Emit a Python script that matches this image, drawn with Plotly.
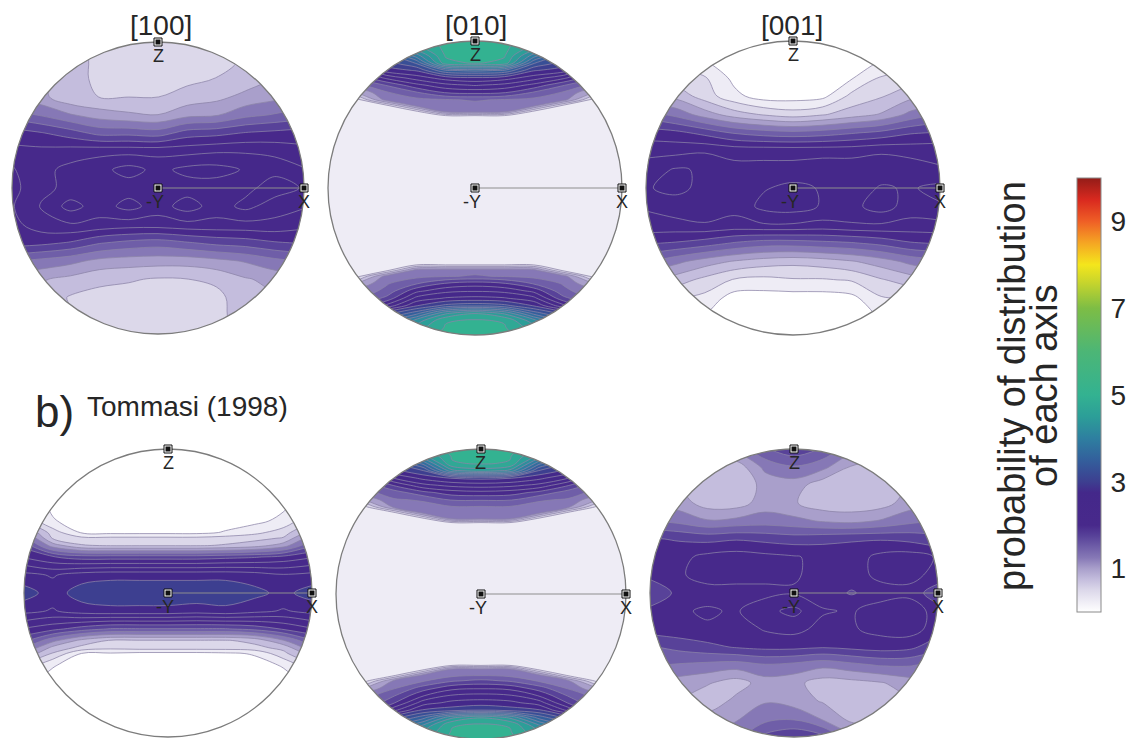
import numpy as np
import plotly.graph_objects as go

W, H = 1139, 738

# Sampling grids of the equal-area projection (unit circle), x to the right, y up
X_GRID = [-1.0, -0.8, -0.6, -0.4, -0.2, 0.0, 0.2, 0.4, 0.6, 0.8, 1.0]
Y_GRID = [1.0, 0.875, 0.75, 0.625, 0.5, 0.375, 0.25, 0.125, 0.0,
          -0.125, -0.25, -0.375, -0.5, -0.625, -0.75, -0.875, -1.0]
# [010] maxima sit at the poles, so those figures are sampled finer near the rim
Y_GRID_010 = [1.0, 0.95, 0.9, 0.85, 0.8, 0.75, 0.7, 0.65, 0.6, 0.56, 0.52, 0.49, 0.0,
              -0.49, -0.52, -0.56, -0.6, -0.65, -0.7, -0.75, -0.8, -0.85, -0.9, -0.95, -1.0]
# Tommasi [100]: sharp girdle edges, sampled finer around them
Y_GRID_B100 = [1.0, 0.875, 0.75, 0.625, 0.5, 0.42, 0.38, 0.33, 0.25, 0.125, 0.0,
               -0.125, -0.25, -0.33, -0.38, -0.42, -0.5, -0.625, -0.75, -0.875, -1.0]

# Probability density of each crystal axis (rows follow the y grid, columns X_GRID)
A_100 = [
    [0.9, 0.8, 0.7, 0.55, 0.5, 0.5, 0.5, 0.55, 0.65, 0.8, 0.9],
    [0.9, 0.85, 0.75, 0.55, 0.5, 0.5, 0.5, 0.55, 0.65, 0.85, 0.95],
    [1.0, 0.9, 0.8, 0.52, 0.52, 0.52, 0.56, 0.63, 0.72, 0.9, 1.0],
    [1.1, 0.95, 0.68, 0.62, 0.62, 0.62, 0.72, 0.8, 0.95, 1.05, 1.15],
    [1.5, 1.35, 1.15, 1.0, 0.92, 0.88, 1.05, 1.1, 1.3, 1.4, 1.5],
    [2.0, 1.9, 1.75, 1.55, 1.55, 1.5, 1.75, 1.8, 1.9, 1.95, 2.0],
    [2.2, 2.2, 2.25, 2.3, 2.3, 2.3, 2.3, 2.35, 2.35, 2.3, 2.2],
    [2.1, 2.3, 2.45, 2.55, 2.72, 2.55, 2.7, 2.72, 2.6, 2.55, 2.4],
    [2.05, 2.3, 2.45, 2.45, 2.5, 2.45, 2.5, 2.5, 2.55, 2.75, 2.6],
    [2.1, 2.4, 2.72, 2.5, 2.72, 2.5, 2.75, 2.5, 2.7, 2.5, 2.4],
    [2.05, 2.25, 2.35, 2.3, 2.25, 2.25, 2.3, 2.3, 2.3, 2.3, 2.2],
    [2.0, 1.95, 1.85, 1.65, 1.55, 1.5, 1.6, 1.7, 1.75, 1.85, 1.9],
    [1.4, 1.3, 1.2, 1.05, 1.0, 0.98, 0.98, 1.05, 1.15, 1.3, 1.4],
    [1.0, 0.9, 0.8, 0.68, 0.65, 0.6, 0.62, 0.68, 0.85, 0.95, 1.0],
    [0.9, 0.8, 0.6, 0.55, 0.52, 0.5, 0.52, 0.55, 0.78, 0.85, 0.9],
    [0.8, 0.75, 0.65, 0.5, 0.5, 0.5, 0.5, 0.55, 0.75, 0.8, 0.85],
    [0.8, 0.7, 0.6, 0.5, 0.5, 0.5, 0.5, 0.55, 0.7, 0.8, 0.8],
]

A_010 = [
    [3.0, 3.5, 4.1, 4.7, 4.95, 5.0, 4.95, 4.7, 4.1, 3.5, 3.0],
    [2.8, 3.2, 3.7, 4.5, 4.95, 5.0, 4.95, 4.5, 3.7, 3.2, 2.8],
    [2.4, 2.8, 3.2, 4.0, 4.9, 4.95, 4.9, 4.0, 3.2, 2.8, 2.4],
    [2.0, 2.5, 3.0, 3.4, 4.8, 4.9, 4.8, 3.4, 3.0, 2.5, 2.0],
    [1.6, 2.1, 2.75, 2.9, 3.6, 3.7, 3.6, 2.9, 2.75, 2.1, 1.6],
    [1.3, 1.7, 2.2, 2.5, 2.75, 2.85, 2.75, 2.5, 2.2, 1.7, 1.3],
    [0.8, 1.3, 1.65, 2.05, 2.3, 2.4, 2.3, 2.05, 1.65, 1.3, 0.8],
    [0.3, 0.9, 1.35, 1.6, 1.9, 1.95, 1.9, 1.6, 1.35, 0.9, 0.3],
    [0.3, 0.3, 1.25, 1.3, 1.35, 1.4, 1.35, 1.3, 1.25, 0.3, 0.3],
    [0.3, 0.3, 0.3, 1.2, 1.3, 1.3, 1.3, 1.2, 0.3, 0.3, 0.3],
    [0.3, 0.3, 0.3, 0.3, 1.2, 1.25, 1.2, 0.3, 0.3, 0.3, 0.3],
    [0.3, 0.3, 0.3, 0.3, 0.3, 0.3, 0.3, 0.3, 0.3, 0.3, 0.3],
    [0.3, 0.3, 0.3, 0.3, 0.3, 0.3, 0.3, 0.3, 0.3, 0.3, 0.3],
    [0.3, 0.3, 0.3, 0.3, 0.3, 0.3, 0.3, 0.3, 0.3, 0.3, 0.3],
    [0.3, 0.3, 0.3, 0.3, 0.3, 0.3, 0.3, 0.3, 0.3, 0.3, 0.3],
    [0.3, 0.3, 0.3, 1.25, 1.3, 1.3, 1.3, 1.25, 0.3, 0.3, 0.3],
    [0.3, 0.3, 1.25, 1.3, 1.35, 1.4, 1.35, 1.3, 1.25, 0.3, 0.3],
    [0.3, 0.9, 1.35, 1.6, 1.9, 2.0, 1.9, 1.6, 1.35, 0.9, 0.3],
    [0.8, 1.2, 1.45, 2.05, 2.3, 2.35, 2.3, 2.05, 1.45, 1.2, 0.8],
    [1.2, 1.35, 1.7, 2.45, 2.65, 2.7, 2.65, 2.45, 1.7, 1.35, 1.2],
    [1.4, 1.6, 2.2, 2.85, 3.2, 3.3, 3.2, 2.85, 2.2, 1.6, 1.4],
    [1.8, 2.0, 3.0, 3.5, 4.3, 4.6, 4.3, 3.5, 3.0, 2.0, 1.8],
    [2.2, 2.5, 3.5, 4.2, 4.85, 4.9, 4.85, 4.2, 3.5, 2.5, 2.2],
    [2.6, 3.0, 3.9, 4.5, 4.9, 4.95, 4.9, 4.5, 3.9, 3.0, 2.6],
    [3.0, 3.3, 4.1, 4.7, 4.95, 5.0, 4.95, 4.7, 4.1, 3.3, 3.0],
]

A_001 = [
    [0.1, 0.1, 0.1, 0.1, 0.1, 0.1, 0.1, 0.1, 0.1, 0.1, 0.1],
    [0.2, 0.15, 0.1, 0.05, 0.05, 0.05, 0.05, 0.05, 0.1, 0.15, 0.2],
    [0.6, 0.5, 0.4, 0.05, 0.0, 0.0, 0.0, 0.1, 0.4, 0.5, 0.6],
    [0.9, 0.8, 0.5, 0.2, 0.0, 0.0, 0.05, 0.45, 0.6, 0.8, 0.9],
    [1.5, 1.3, 1.0, 0.75, 0.6, 0.5, 0.6, 0.75, 0.9, 1.2, 1.4],
    [2.0, 1.95, 1.8, 1.6, 1.5, 1.45, 1.5, 1.6, 1.7, 1.85, 1.9],
    [2.3, 2.3, 2.35, 2.3, 2.3, 2.3, 2.3, 2.3, 2.35, 2.3, 2.3],
    [2.5, 2.65, 2.6, 2.45, 2.45, 2.45, 2.5, 2.5, 2.5, 2.5, 2.4],
    [2.6, 2.7, 2.55, 2.45, 2.6, 2.7, 2.6, 2.5, 2.65, 2.6, 2.7],
    [2.4, 2.5, 2.55, 2.45, 2.7, 2.75, 2.6, 2.55, 2.75, 2.5, 2.6],
    [2.3, 2.3, 2.35, 2.3, 2.35, 2.35, 2.3, 2.35, 2.35, 2.3, 2.3],
    [1.9, 1.85, 1.75, 1.6, 1.5, 1.5, 1.55, 1.6, 1.7, 1.85, 1.9],
    [1.4, 1.2, 1.0, 0.85, 0.75, 0.7, 0.75, 0.85, 1.0, 1.2, 1.3],
    [0.9, 0.75, 0.55, 0.35, 0.3, 0.35, 0.35, 0.4, 0.6, 0.75, 0.9],
    [0.5, 0.4, 0.3, 0.0, 0.0, 0.0, 0.0, 0.05, 0.35, 0.4, 0.5],
    [0.2, 0.15, 0.1, 0.0, 0.0, 0.0, 0.0, 0.0, 0.15, 0.15, 0.2],
    [0.1, 0.1, 0.1, 0.1, 0.1, 0.1, 0.1, 0.1, 0.1, 0.1, 0.1],
]

B_100 = [
    [0.0, 0.0, 0.0, 0.0, 0.0, 0.0, 0.0, 0.0, 0.0, 0.0, 0.0],
    [0.0, 0.0, 0.0, 0.0, 0.0, 0.0, 0.0, 0.0, 0.0, 0.0, 0.0],
    [0.05, 0.02, 0.0, 0.0, 0.0, 0.0, 0.0, 0.0, 0.0, 0.02, 0.05],
    [0.3, 0.05, 0.0, 0.0, 0.0, 0.0, 0.0, 0.0, 0.0, 0.05, 0.3],
    [0.6, 0.15, 0.0, 0.0, 0.0, 0.0, 0.0, 0.0, 0.05, 0.2, 0.6],
    [1.2, 0.5, 0.1, 0.05, 0.05, 0.05, 0.05, 0.15, 0.3, 0.5, 1.0],
    [1.5, 0.6, 0.45, 0.45, 0.45, 0.45, 0.45, 0.5, 0.55, 0.65, 1.3],
    [1.8, 1.0, 0.65, 0.6, 0.6, 0.6, 0.6, 0.65, 0.75, 1.0, 1.6],
    [2.1, 1.9, 1.75, 1.75, 1.75, 1.75, 1.75, 1.8, 1.85, 1.95, 2.1],
    [2.7, 2.6, 2.75, 2.8, 2.8, 2.8, 2.8, 2.8, 2.75, 2.65, 2.7],
    [3.0, 2.75, 3.0, 3.05, 3.05, 3.05, 3.05, 3.05, 2.95, 2.8, 3.0],
    [2.7, 2.6, 2.75, 2.8, 2.8, 2.8, 2.75, 2.8, 2.7, 2.6, 2.7],
    [2.1, 1.95, 1.75, 1.6, 1.6, 1.6, 1.6, 1.6, 1.7, 1.9, 2.1],
    [1.7, 1.2, 0.8, 0.6, 0.6, 0.6, 0.6, 0.6, 0.7, 1.1, 1.6],
    [1.4, 0.8, 0.55, 0.45, 0.5, 0.5, 0.5, 0.5, 0.55, 0.7, 1.3],
    [1.1, 0.6, 0.12, 0.1, 0.05, 0.05, 0.05, 0.08, 0.15, 0.55, 1.0],
    [0.6, 0.15, 0.0, 0.0, 0.0, 0.0, 0.0, 0.0, 0.02, 0.15, 0.6],
    [0.2, 0.0, 0.0, 0.0, 0.0, 0.0, 0.0, 0.0, 0.0, 0.0, 0.2],
    [0.05, 0.0, 0.0, 0.0, 0.0, 0.0, 0.0, 0.0, 0.0, 0.0, 0.05],
    [0.0, 0.0, 0.0, 0.0, 0.0, 0.0, 0.0, 0.0, 0.0, 0.0, 0.0],
    [0.0, 0.0, 0.0, 0.0, 0.0, 0.0, 0.0, 0.0, 0.0, 0.0, 0.0],
]

B_010 = [
    [3.0, 3.4, 4.0, 4.7, 4.95, 5.0, 4.95, 4.7, 4.0, 3.4, 3.0],
    [2.7, 3.1, 3.6, 4.3, 4.9, 4.95, 4.9, 4.3, 3.6, 3.1, 2.7],
    [2.3, 2.7, 3.1, 3.7, 4.85, 4.9, 4.85, 3.7, 3.1, 2.7, 2.3],
    [1.9, 2.3, 2.8, 3.1, 4.3, 4.5, 4.3, 3.1, 2.8, 2.3, 1.9],
    [1.5, 1.8, 2.4, 2.7, 2.9, 2.95, 2.9, 2.7, 2.4, 1.8, 1.5],
    [1.3, 1.45, 1.9, 2.3, 2.45, 2.5, 2.45, 2.3, 1.9, 1.45, 1.3],
    [0.8, 1.3, 1.5, 1.8, 2.0, 2.05, 2.0, 1.8, 1.5, 1.3, 0.8],
    [0.3, 0.9, 1.35, 1.4, 1.65, 1.65, 1.65, 1.4, 1.35, 0.9, 0.3],
    [0.3, 0.3, 1.2, 1.3, 1.35, 1.35, 1.35, 1.3, 1.2, 0.3, 0.3],
    [0.3, 0.3, 0.3, 1.2, 1.3, 1.3, 1.3, 1.2, 0.3, 0.3, 0.3],
    [0.3, 0.3, 0.3, 0.3, 1.2, 1.2, 1.2, 0.3, 0.3, 0.3, 0.3],
    [0.3, 0.3, 0.3, 0.3, 0.3, 0.3, 0.3, 0.3, 0.3, 0.3, 0.3],
    [0.3, 0.3, 0.3, 0.3, 0.3, 0.3, 0.3, 0.3, 0.3, 0.3, 0.3],
    [0.3, 0.3, 0.3, 0.3, 0.3, 0.3, 0.3, 0.3, 0.3, 0.3, 0.3],
    [0.3, 0.3, 0.3, 0.3, 1.2, 1.2, 1.2, 0.3, 0.3, 0.3, 0.3],
    [0.3, 0.3, 0.3, 1.2, 1.3, 1.35, 1.3, 1.2, 0.3, 0.3, 0.3],
    [0.3, 0.3, 1.2, 1.35, 1.6, 1.7, 1.6, 1.35, 1.2, 0.3, 0.3],
    [0.3, 0.9, 1.35, 1.75, 2.05, 2.1, 2.05, 1.75, 1.35, 0.9, 0.3],
    [0.8, 1.25, 1.6, 2.1, 2.4, 2.45, 2.4, 2.1, 1.6, 1.25, 0.8],
    [1.2, 1.35, 1.85, 2.5, 2.7, 2.75, 2.7, 2.5, 1.85, 1.35, 1.2],
    [1.4, 1.6, 2.3, 2.9, 3.0, 3.1, 3.0, 2.9, 2.3, 1.6, 1.4],
    [1.8, 2.0, 3.0, 3.5, 4.3, 4.6, 4.3, 3.5, 3.0, 2.0, 1.8],
    [2.2, 2.5, 3.5, 4.1, 4.85, 4.9, 4.85, 4.1, 3.5, 2.5, 2.2],
    [2.6, 3.0, 3.9, 4.4, 4.9, 4.95, 4.9, 4.4, 3.9, 3.0, 2.6],
    [3.0, 3.3, 4.1, 4.6, 4.95, 5.0, 4.95, 4.6, 4.1, 3.3, 3.0],
]

B_001 = [
    [1.0, 1.0, 1.0, 1.2, 1.6, 1.8, 1.6, 1.2, 1.0, 1.0, 1.0],
    [0.9, 0.85, 0.75, 0.72, 1.2, 1.35, 1.2, 0.85, 0.8, 0.9, 0.9],
    [0.9, 0.85, 0.7, 0.7, 0.95, 1.0, 0.72, 0.7, 0.72, 0.9, 1.0],
    [1.1, 1.0, 0.75, 0.75, 1.0, 0.9, 0.72, 0.7, 0.75, 1.0, 1.1],
    [1.4, 1.3, 1.15, 1.2, 1.25, 1.2, 1.1, 1.05, 1.15, 1.3, 1.4],
    [1.9, 1.85, 1.8, 1.85, 1.8, 1.75, 1.8, 1.85, 1.85, 1.8, 1.7],
    [2.0, 2.05, 2.2, 2.25, 2.2, 2.15, 2.05, 2.0, 2.2, 2.25, 2.1],
    [1.95, 2.1, 2.2, 2.25, 2.2, 2.15, 2.05, 2.0, 2.2, 2.2, 2.05],
    [1.65, 1.95, 2.05, 2.0, 2.05, 2.1, 2.0, 1.85, 2.0, 2.05, 1.7],
    [1.95, 2.1, 2.15, 2.1, 2.3, 2.45, 2.15, 2.1, 2.25, 2.3, 2.0],
    [2.0, 2.05, 2.1, 2.0, 2.15, 2.2, 2.05, 2.1, 2.2, 2.25, 2.0],
    [1.6, 1.7, 1.8, 1.9, 1.95, 1.95, 1.9, 1.95, 2.0, 1.95, 1.7],
    [1.4, 1.35, 1.3, 1.25, 1.35, 1.3, 1.2, 1.3, 1.4, 1.4, 1.3],
    [1.1, 1.0, 0.9, 0.75, 1.0, 0.95, 0.75, 0.78, 0.85, 1.0, 1.1],
    [1.0, 0.9, 0.7, 0.95, 1.1, 1.0, 0.85, 0.72, 0.7, 0.85, 1.0],
    [1.0, 0.95, 1.0, 1.1, 1.3, 1.35, 1.1, 0.8, 0.8, 0.9, 1.0],
    [1.1, 1.05, 1.1, 1.3, 1.7, 1.85, 1.7, 1.2, 1.0, 1.0, 1.0],
]

TITLES = ["[100]", "[010]", "[001]"]
SOURCE_LABEL = "Tommasi (1998)"
CBAR_TICKS = [1, 3, 5, 7, 9]
CBAR_TITLE = ["probability of distribution", "of each axis"]

# Colour ramp over the density range 0-10 (value, colour)
SCALE_STOPS = [
    (0.0, "#ffffff"), (0.25, "#eeecf5"), (0.5, "#dcd8ea"), (0.75, "#c4bddd"),
    (1.0, "#a99fcb"), (1.25, "#8678b6"), (1.5, "#6f5ea8"), (1.75, "#584299"),
    (2.0, "#48298b"), (2.75, "#44288a"), (3.0, "#3d3f90"), (3.5, "#335f9c"),
    (4.0, "#2e7fa0"), (4.5, "#2c9e98"), (5.0, "#33b291"), (6.0, "#4cb676"),
    (7.0, "#7dbd45"), (7.6, "#c8d52c"), (8.0, "#f4e61c"), (8.5, "#f5a623"),
    (9.0, "#ef5f26"), (9.5, "#d9291f"), (10.0, "#931c18"),
]
ZMAX = 10.0
COLORSCALE = [[v / ZMAX, c] for v, c in SCALE_STOPS]

# Pole figures: density grid, its y sampling, centre x, centre y, radius (pixels)
PANELS = [
    (A_100, Y_GRID, 158, 188, 146),
    (A_010, Y_GRID_010, 475, 188, 147),
    (A_001, Y_GRID, 793, 188, 147),
    (B_100, Y_GRID_B100, 168, 593, 144),
    (B_010, Y_GRID_010, 481, 594, 145),
    (B_001, Y_GRID, 794, 593, 144),
]
TITLE_POS = [(161, 26), (476, 26), (792, 26)]

FONT = "Arial, 'Liberation Sans', Helvetica, sans-serif"
TEXT = "#262626"

fig = go.Figure()
shapes = []
annotations = []

theta = np.linspace(0.0, 2.0 * np.pi, 241)
circ = list(zip(np.cos(theta), np.sin(theta)))

for i, (z, ygrid, cx, cy, r) in enumerate(PANELS):
    n = "" if i == 0 else str(i + 1)
    xa, ya = "x" + n, "y" + n
    pad = 0.06 * r
    left, right = cx - r - pad, cx + r + pad
    top, bottom = cy - r - pad, min(cy + r + pad, H)
    xr = [-(r + pad) / r, (r + pad) / r]
    yr = [-(bottom - cy) / r, (cy - top) / r]
    fig.update_layout(**{
        "xaxis" + n: dict(domain=[left / W, right / W], range=xr, visible=False,
                          fixedrange=True, anchor=ya),
        "yaxis" + n: dict(domain=[1 - bottom / H, 1 - top / H], range=yr, visible=False,
                          fixedrange=True, anchor=xa),
    })

    fig.add_trace(go.Contour(
        x=X_GRID, y=ygrid[::-1], z=z[::-1],
        xaxis=xa, yaxis=ya,
        colorscale=COLORSCALE, autocontour=False,
        contours=dict(start=0.125, end=ZMAX - 0.125, size=0.25, coloring="fill"),
        line=dict(color="rgba(140,132,168,0.95)", width=0.8, smoothing=1.0),
        showscale=False, hoverinfo="skip",
    ))

    # white mask outside the unit circle
    rect = (f"M{xr[0] - 1},{yr[0] - 1} L{xr[1] + 1},{yr[0] - 1} "
            f"L{xr[1] + 1},{yr[1] + 1} L{xr[0] - 1},{yr[1] + 1} Z ")
    ring = "M" + " L".join(f"{px:.5f},{py:.5f}" for px, py in circ) + " Z"
    shapes.append(dict(type="path", path=rect + ring, xref=xa, yref=ya,
                       fillcolor="white", fillrule="evenodd",
                       line=dict(width=0), layer="above"))
    shapes.append(dict(type="circle", xref=xa, yref=ya, x0=-1, y0=-1, x1=1, y1=1,
                       line=dict(color="#7c7c7c", width=1.3), layer="above"))
    shapes.append(dict(type="line", xref=xa, yref=ya, x0=0, y0=0, x1=1, y1=0,
                       line=dict(color="#8e8e8e", width=1), layer="above"))
    for mx, my in [(0, 1), (0, 0), (1, 0)]:
        shapes.append(dict(type="rect", xref=xa, yref=ya, xsizemode="pixel",
                           ysizemode="pixel", xanchor=mx, yanchor=my,
                           x0=-4, x1=4, y0=-4, y1=4, fillcolor="white",
                           line=dict(color="#111111", width=1), layer="above"))
        shapes.append(dict(type="rect", xref=xa, yref=ya, xsizemode="pixel",
                           ysizemode="pixel", xanchor=mx, yanchor=my,
                           x0=-2.5, x1=2.5, y0=-2.5, y1=2.5, fillcolor="#111111",
                           line=dict(width=0), layer="above"))

    for txt, tx, ty, xs in [("Z", 0, 1, 0), ("-Y", 0, 0, -3), ("X", 1, 0, 0)]:
        annotations.append(dict(text=txt, x=tx, y=ty, xref=xa, yref=ya,
                                showarrow=False, xanchor="center", yanchor="middle",
                                xshift=xs, yshift=-14,
                                font=dict(family=FONT, size=18, color=TEXT)))

# column titles
for t, (px, py) in zip(TITLES, TITLE_POS):
    annotations.append(dict(text=t, x=px / W, y=1 - py / H, xref="paper", yref="paper",
                            showarrow=False, xanchor="center", yanchor="middle",
                            font=dict(family=FONT, size=28, color=TEXT)))

# row label
annotations.append(dict(text="b)", x=33 / W, y=1 - 411 / H, xref="paper", yref="paper",
                        showarrow=False, xanchor="left", yanchor="middle",
                        font=dict(family=FONT, size=44, color=TEXT)))
annotations.append(dict(text=SOURCE_LABEL, x=85 / W, y=1 - 407 / H, xref="paper",
                        yref="paper", showarrow=False, xanchor="left", yanchor="middle",
                        font=dict(family=FONT, size=28, color=TEXT)))

# colour bar title, rotated
for t, px in zip(CBAR_TITLE, [1012, 1044]):
    annotations.append(dict(text=t, x=px / W, y=1 - 386 / H, xref="paper", yref="paper",
                            showarrow=False, xanchor="center", yanchor="middle",
                            textangle=-90,
                            font=dict(family=FONT, size=38, color=TEXT)))

# continuous colour bar
fig.add_trace(go.Scatter(
    x=[0], y=[0], xaxis="x", yaxis="y", mode="markers", hoverinfo="skip",
    marker=dict(size=1, opacity=0, color=[0], cmin=0, cmax=ZMAX,
                colorscale=COLORSCALE, showscale=True,
                colorbar=dict(x=1077 / W, xanchor="left", xpad=0, ypad=0,
                              y=1 - 395 / H, yanchor="middle",
                              len=(612 - 178) / H, lenmode="fraction",
                              thickness=24, thicknessmode="pixels",
                              tickvals=CBAR_TICKS, ticktext=[str(v) for v in CBAR_TICKS],
                              ticks="outside", ticklen=4, tickcolor="white",
                              tickfont=dict(family=FONT, size=28, color=TEXT),
                              outlinecolor="#8a8a8a", outlinewidth=1)),
))

fig.update_layout(
    width=W, height=H, margin=dict(l=0, r=0, t=0, b=0),
    paper_bgcolor="white", plot_bgcolor="white", showlegend=False,
    shapes=shapes, annotations=annotations,
)

fig.write_html("out.html")
